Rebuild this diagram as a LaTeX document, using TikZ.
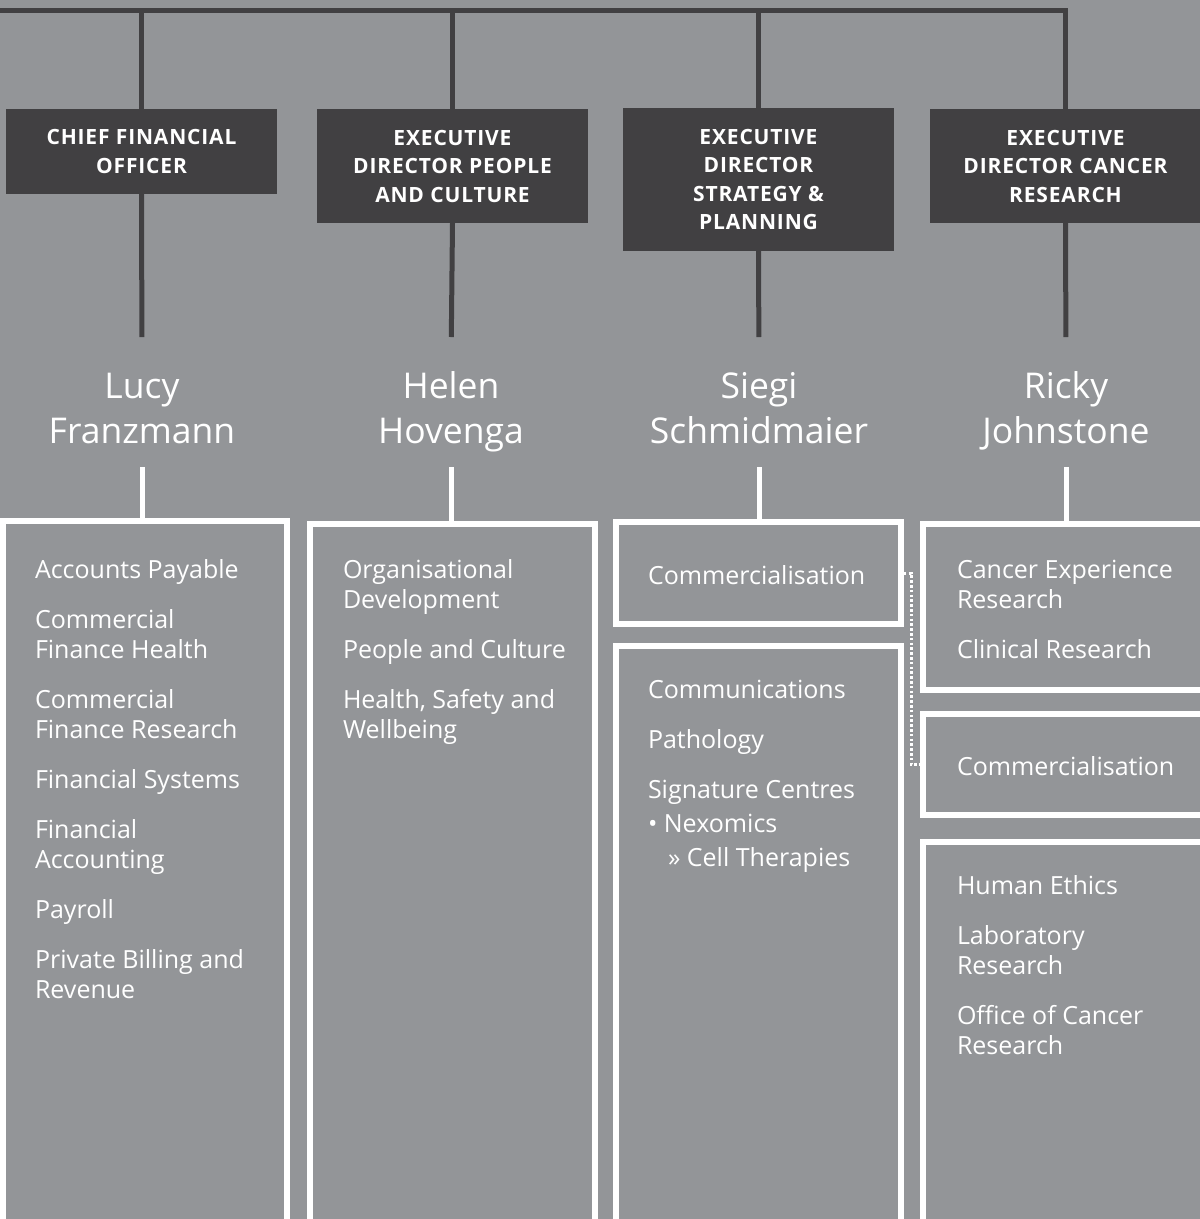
\documentclass[tikz,border=0pt]{standalone}
\usepackage{fontspec}
\setmainfont{Open Sans}
\newfontfamily\hdrfont[LetterSpace=4]{Open Sans}
\definecolor{bg}{RGB}{147,149,152}
\definecolor{dark}{RGB}{65,64,66}
\begin{document}
\begin{tikzpicture}[x=1pt,y=-1pt,
  hdr/.style={fill=dark, text=white, minimum width=271, minimum height=#1, inner sep=0, outer sep=0, align=center,
    font=\hdrfont\bfseries\fontsize{21}{28.5}\selectfont},
  person/.style={anchor=north, inner sep=0, outer sep=0, align=center, text=white,
    font=\fontsize{35.5}{45}\selectfont},
  unit/.style={draw=white, line width=5.5, inner sep=0, outer sep=0, anchor=north west},
  items/.style={anchor=north west, inner sep=0, outer sep=0, align=left, text=white,
    font=\fontsize{25}{30}\selectfont},
  bus/.style={draw=dark, line width=5},
  wline/.style={draw=white, line width=5},
  dotline/.style={draw=white, line width=3, dash pattern=on 2.6pt off 2.2pt}
]
\useasboundingbox (0,0) rectangle (1200,1219);
\clip (0,0) rectangle (1200,1219);
\fill[bg] (0,0) rectangle (1200,1219);

% headers
\node[hdr=85]  (h1) at (141.5,151.5) {CHIEF FINANCIAL\\OFFICER};
\node[hdr=114] (h2) at (452.5,166)   {EXECUTIVE\\DIRECTOR PEOPLE\\AND CULTURE};
\node[hdr=143] (h3) at (758.5,179.5) {EXECUTIVE\\DIRECTOR\\STRATEGY \&\\PLANNING};
\node[hdr=114] (h4) at (1065.5,166)  {EXECUTIVE\\DIRECTOR CANCER\\RESEARCH};

% top bus
\coordinate (busL) at (-5,10);
\draw[bus] (busL) -| (h4.north);
\draw[bus] (h1.north) -- (h1.north |- busL);
\draw[bus] (h2.north) -- (h2.north |- busL);
\draw[bus] (h3.north) -- (h3.north |- busL);

% people
\node[person] (n1) at (142,366.5)  {\strut Lucy\\Franzmann\strut};
\node[person] (n2) at (451,366.5)  {\strut Helen\\Hovenga\strut};
\node[person] (n3) at (759,366.5)  {\strut Siegi\\Schmidmaier\strut};
\node[person] (n4) at (1066,366.5) {\strut Ricky\\Johnstone\strut};

% unit boxes
\node[unit, minimum width=284, minimum height=719] (b1)  at (3,521) {};
\node[unit, minimum width=285, minimum height=716] (b2)  at (310,524) {};
\node[unit, minimum width=285, minimum height=102] (b3a) at (616,522) {};
\node[unit, minimum width=285, minimum height=594] (b3b) at (616,646) {};
\node[unit, minimum width=290, minimum height=166] (b4a) at (923,524) {};
\node[unit, minimum width=290, minimum height=101] (b4b) at (923,714) {};
\node[unit, minimum width=290, minimum height=398] (b4c) at (923,842) {};

% connectors header -> person -> unit
\draw[bus, shorten >=29.5pt] (h1.south) -- (n1.north);
\draw[bus, shorten >=29.5pt] (h2.south) -- (n2.north);
\draw[bus, shorten >=29.5pt] (h3.south) -- (n3.north);
\draw[bus, shorten >=29.5pt] (h4.south) -- (n4.north);
\draw[wline, shorten <=10.5pt] (n1.south) -- (n1.south |- b1.north);
\draw[wline, shorten <=10.5pt] (n2.south) -- (n2.south |- b2.north);
\draw[wline, shorten <=10.5pt] (n3.south) -- (n3.south |- b3a.north);
\draw[wline, shorten <=10.5pt] (n4.south) -- (n4.south |- b4a.north);

% dotted link
\draw[dotline, shorten <=2.8pt, shorten >=4pt] (b3a.east) -- ++(10,0) |- (b4b.west);

% texts
\node[items] (t1) at (35,557) {\strut Accounts Payable\\[20pt]
Commercial\\Finance Health\\[20pt]
Commercial\\Finance Research\\[20pt]
Financial Systems\\[20pt]
Financial\\Accounting\\[20pt]
Payroll\\[20pt]
Private Billing and\\Revenue};
\node[items] (t2) at (343,557) {\strut Organisational\\Development\\[20pt]
People and Culture\\[20pt]
Health, Safety and\\Wellbeing};
\node[items] (t3a) at (648,563) {\strut Commercialisation};
\node[items] (t3b) at (648,677) {\strut Communications\\[20pt]
Pathology\\[20pt]
Signature Centres\\[4pt]
\textbullet\ Nexomics\\[4pt]
\hspace*{20pt}» Cell Therapies};
\node[items] (t4a) at (957,557) {\strut Cancer Experience\\Research\\[20pt]
Clinical Research};
\node[items] (t4b) at (957,754) {\strut Commercialisation};
\node[items] (t4c) at (957,873) {\strut Human Ethics\\[20pt]
Laboratory\\Research\\[20pt]
Office of Cancer\\Research};
\end{tikzpicture}
\end{document}
